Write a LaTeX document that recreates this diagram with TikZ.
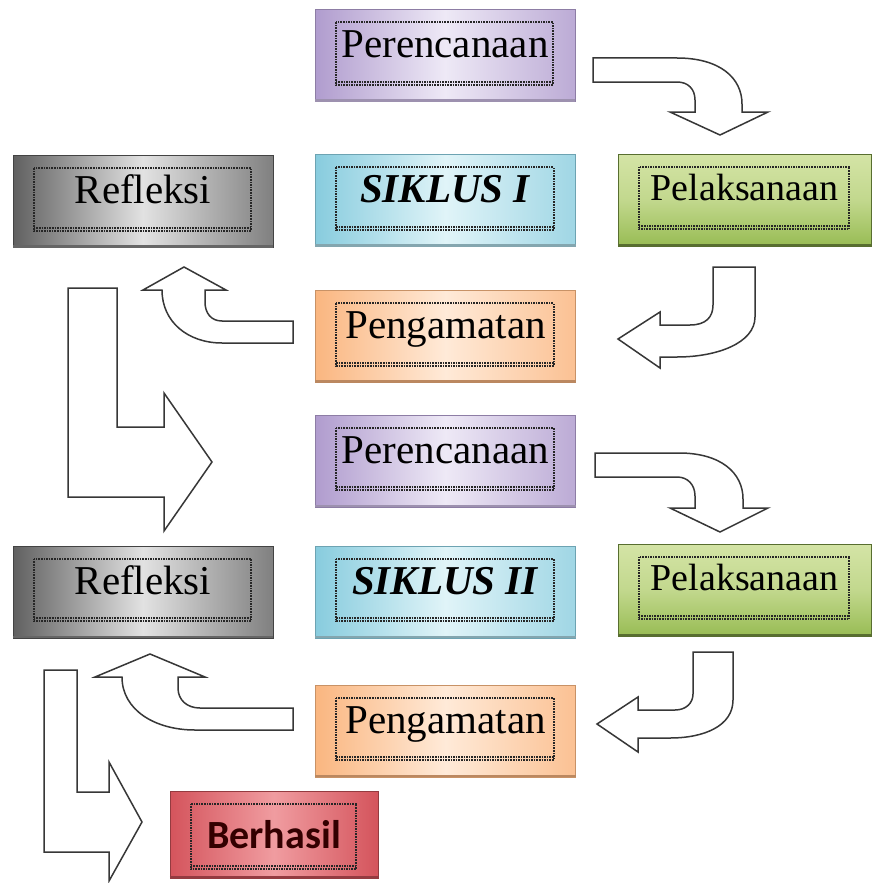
\documentclass[tikz,border=0pt]{standalone}
\usepackage{fontspec}
\setmainfont{Liberation Serif}
\newfontfamily\calibri{Carlito}
\usetikzlibrary{calc}

\definecolor{purpleedge}{RGB}{176,156,206}
\definecolor{purplemid}{RGB}{238,233,246}
\definecolor{cyanedge}{RGB}{136,204,222}
\definecolor{cyanmid}{RGB}{224,244,248}
\definecolor{peachedge}{RGB}{250,182,128}
\definecolor{peachmid}{RGB}{255,234,216}
\definecolor{greentop}{RGB}{212,228,166}
\definecolor{greenbot}{RGB}{152,188,84}
\definecolor{greendark}{RGB}{88,110,48}
\definecolor{grayedge}{RGB}{96,96,96}
\definecolor{graymid}{RGB}{226,226,226}
\definecolor{rededge}{RGB}{212,84,92}
\definecolor{redmid}{RGB}{240,156,160}
\definecolor{arrowline}{RGB}{55,55,55}

\tikzset{
  stage/.style={minimum width=260pt, text height=48pt, text depth=44pt, inner sep=0pt,
    font=\fontsize{41}{41}\selectfont},
  plan/.style={stage, draw=purpleedge!80!black, line width=.5pt,
    left color=purpleedge, right color=purpleedge!85, middle color=purplemid},
  siklus/.style={stage, draw=cyanedge!80!black, line width=.5pt,
    left color=cyanedge, right color=cyanedge!80, middle color=cyanmid},
  observe/.style={stage, draw=peachedge!80!black, line width=.5pt,
    left color=peachedge, right color=peachedge!85, middle color=peachmid},
  act/.style={stage, minimum width=253pt, text height=46pt, text depth=46pt,
    draw=greendark, line width=.5pt,
    top color=greentop, bottom color=greenbot, middle color=greentop!70!greenbot,
    font=\fontsize{38}{38}\selectfont},
  reflect/.style={stage, draw=grayedge!70!black, line width=.5pt,
    left color=grayedge, right color=grayedge!80, middle color=graymid},
  success/.style={minimum width=208pt, text height=57pt, text depth=30pt, inner sep=0pt,
    draw=rededge!70!black, line width=.5pt,
    left color=rededge, right color=rededge, middle color=redmid,
    font=\calibri\bfseries\fontsize{40}{40}\selectfont, text=black!80!red},
  innerframe/.style={densely dotted, line width=1.6pt, black!85},
  blockarrow/.style={draw=arrowline, line width=1.5pt, fill=white}
}

\begin{document}
\begin{tikzpicture}[x=1pt,y=-1pt]
  \useasboundingbox (0,0) rectangle (871,883);
  \fill[white] (0,0) rectangle (871,883);

  % first cycle
  \node[plan] (plan1) at (445,55.5) {Perencanaan};
  \node[reflect] (reflect1) at (143,201.5) {Refleksi};
  \node[siklus] (siklus1) at (445.5,200.5) {\textbf{\textit{SIKLUS I}}};
  \node[act] (act1) at (744.5,200) {Pelaksanaan};
  \node[observe] (observe1) at (445.5,336.5) {Pengamatan};

  % second cycle
  \node[plan] (plan2) at (445.5,461) {Perencanaan};
  \node[reflect] (reflect2) at (143,592) {Refleksi};
  \node[siklus] (siklus2) at (445.5,592) {\textbf{\textit{SIKLUS II}}};
  \node[act] (act2) at (744.5,590) {Pelaksanaan};
  \node[observe] (observe2) at (445.5,731) {Pengamatan};

  \node[success] (success) at (274,834.5) {Berhasil};

  % shadow edge under the boxes
  \foreach \n/\c in {plan1/purpleedge!60!gray, reflect1/black!60, siklus1/cyanedge!50!gray,
                     act1/greendark, observe1/peachedge!75!black, plan2/purpleedge!60!gray,
                     reflect2/black!60, siklus2/cyanedge!50!gray, act2/greendark,
                     observe2/peachedge!75!black, success/rededge!70!black}
    \draw[line width=2.5pt, \c] ([yshift=1.25pt]\n.south west) -- ([yshift=1.25pt]\n.south east);

  % dotted text frames
  \foreach \n/\b in {plan1/17, reflect1/17, siklus1/17, act1/17, observe1/17, plan2/17,
                     reflect2/17, siklus2/17, act2/17, observe2/17, success/9}
  {
    \draw[innerframe] ($(\n.north west)+(21,13)$) rectangle ($(\n.south east)+(-22,-\b)$);
    \draw[innerframe] ($(\n.south west)+(21,-\b-3)$) -- ($(\n.south east)+(-22,-\b-3)$);
  }

  % block arrows
  \draw[blockarrow] (593,58) -- (677,58) .. controls (720,58) and (742,78) .. (742,104)
    -- (742,112) -- (768,112) -- (720,135) -- (670,112) -- (695,112) -- (695,100)
    .. controls (695,89) and (688,82) .. (677,82) -- (593,82) -- cycle;
  \draw[blockarrow] (713,267) -- (755,267) -- (755,317) .. controls (755,343) and (717,357) .. (677,357)
    -- (660,357) -- (660,368) -- (618,339) -- (660,312) -- (660,325) -- (690,325)
    .. controls (706,325) and (713,317) .. (713,305) -- cycle;
  \draw[blockarrow] (293,321) -- (222,321) .. controls (211,321) and (205,313) .. (205,302)
    -- (205,290) -- (226,290) -- (184,267) -- (143,290) -- (162,290)
    .. controls (162,322) and (188,343) .. (222,343) -- (293,343) -- cycle;
  \draw[blockarrow] (68,288) -- (117,288) -- (117,427) -- (164,427) -- (164,393) -- (212,462)
    -- (164,531) -- (164,497) -- (68,497) -- cycle;

  \draw[blockarrow] (595,453) -- (679,453) .. controls (721,453) and (743,473) .. (743,499)
    -- (743,508) -- (768,508) -- (720,532) -- (670,508) -- (695,508) -- (695,496)
    .. controls (695,485) and (688,477) .. (677,477) -- (595,477) -- cycle;
  \draw[blockarrow] (693,652) -- (733,652) -- (733,700) .. controls (733,726) and (704,738) .. (670,738)
    -- (638,738) -- (638,752) -- (597,724) -- (638,697) -- (638,710) -- (675,710)
    .. controls (686,710) and (693,703) .. (693,694) -- cycle;
  \draw[blockarrow] (293,708) -- (200,708) .. controls (187,708) and (178,700) .. (178,688)
    -- (178,677) -- (205,677) -- (150,654) -- (95,677) -- (122,677)
    .. controls (122,710) and (155,730) .. (195,730) -- (293,730) -- cycle;
  \draw[blockarrow] (44,670) -- (77,670) -- (77,792) -- (109,792) -- (109,762) -- (142,822)
    -- (109,881) -- (109,852) -- (44,852) -- cycle;
\end{tikzpicture}
\end{document}
